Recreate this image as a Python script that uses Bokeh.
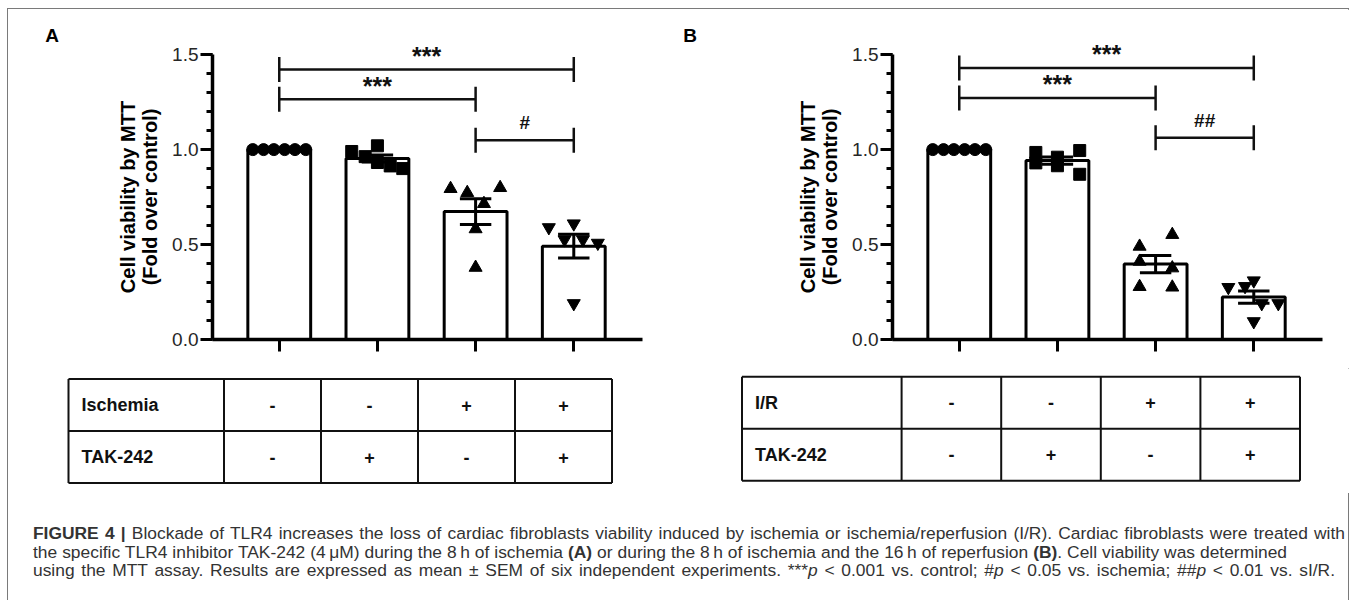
import numpy as np
from bokeh.plotting import figure
from bokeh.models import (Range1d, SingleIntervalTicker, FixedTicker, Div,
                          NumeralTickFormatter)
from bokeh.layouts import column, row
from bokeh.embed import file_html
from bokeh.resources import INLINE
from bokeh.core.properties import value

# ---------------- data ----------------
group_positions = [0, 1, 2, 3]

# Panel A (ischemia): six replicate values per group
a_control = [1.0, 1.0, 1.0, 1.0, 1.0, 1.0]
a_tak242 = [0.99, 0.963, 1.02, 0.932, 0.914, 0.90]
a_ischemia = [0.794, 0.773, 0.799, 0.715, 0.582, 0.379]
a_isch_tak = [0.59, 0.61, 0.526, 0.526, 0.508, 0.19]

# Panel B (ischemia/reperfusion)
b_control = [1.0, 1.0, 1.0, 1.0, 1.0, 1.0]
b_tak242 = [0.985, 0.93, 0.96, 0.915, 0.995, 0.87]
b_ir = [0.490, 0.552, 0.411, 0.376, 0.278, 0.275]
b_ir_tak = [0.275, 0.28, 0.31, 0.19, 0.19, 0.095]

# significance brackets
a_br_from = [0, 0, 2]
a_br_to = [3, 2, 3]
a_br_y = [1.422, 1.265, 1.049]
a_br_text = ["***", "***", "#"]

b_br_from = [0, 0, 2]
b_br_to = [3, 2, 3]
b_br_y = [1.430, 1.272, 1.062]
b_br_text = ["***", "***", "##"]

# table contents
a_row_labels = ["Ischemia", "TAK-242"]
b_row_labels = ["I/R", "TAK-242"]
row1_flags = ["-", "-", "+", "+"]
row2_flags = ["-", "+", "-", "+"]

y_title = ["Cell viability by MTT", "(Fold over control)"]
y_tick_labels_fmt = "0.0"

caption_lines = [
    '<b>FIGURE 4 |</b> Blockade of TLR4 increases the loss of cardiac fibroblasts viability '
    'induced by ischemia or ischemia/reperfusion (I/R). Cardiac fibroblasts were treated with',
    'the specific TLR4 inhibitor TAK-242 (4\u2009\u03bcM) during the 8\u2009h of ischemia <b>(A)</b> '
    'or during the 8\u2009h of ischemia and the 16\u2009h of reperfusion <b>(B)</b>. '
    'Cell viability was determined',
    'using the MTT assay. Results are expressed as mean \u00b1 SEM of six independent experiments. '
    '***<i>p</i> &lt; 0.001 vs. control; #<i>p</i> &lt; 0.05 vs. ischemia; '
    '##<i>p</i> &lt; 0.01 vs. sI/R.',
]
caption_line_widths = [1312, 1254, 1302]

# jitter of replicate points (layout)
jit_ctrl = [-0.27, -0.16, -0.055, 0.055, 0.16, 0.27]
a_jit = [jit_ctrl,
         [-0.262, -0.125, 0.0, 0.0, 0.13, 0.258],
         [-0.255, -0.085, 0.25, 0.085, 0.0, 0.0],
         [-0.254, 0.0, -0.094, 0.093, 0.245, 0.0]]
b_jit = [jit_ctrl,
         [-0.22, -0.22, 0.0, 0.0, 0.227, 0.227],
         [-0.163, 0.17, -0.163, 0.17, -0.163, 0.17],
         [-0.259, -0.089, 0.0, 0.081, 0.25, 0.0]]

MARKERS = ["circle", "square", "triangle", "inverted_triangle"]
MSIZE = [12, 12, 13, 13]
FONT = "Liberation Sans"
INK = "#111111"

FIG_H = 359
AXIS_BORDER = 44
FRAME_W = 430
BORDER_TOP = 0
BORDER_BOTTOM = 29
PX_PER_UNIT = 189.9
YTOP = (FIG_H - BORDER_TOP - BORDER_BOTTOM) / PX_PER_UNIT


def make_label_fig(width, letter, letter_x):
    # coordinates: x = px from left, y = px from bottom of the figure canvas
    f = figure(width=width, height=FIG_H, x_range=Range1d(0, width),
               y_range=Range1d(BORDER_BOTTOM, FIG_H - BORDER_TOP),
               output_backend="svg", toolbar_location=None,
               min_border_left=0, min_border_right=0,
               min_border_top=BORDER_TOP, min_border_bottom=BORDER_BOTTOM)
    f.axis.visible = False
    f.grid.visible = False
    f.outline_line_color = None
    f.text(x=[letter_x], y=[FIG_H - 25.5], text=[letter], text_align="center",
           text_baseline="middle", text_font=value(FONT), text_font_style="bold",
           text_font_size="19px", text_color="black")
    ax = width + AXIS_BORDER
    f.text(x=[ax - 84.5, ax - 62.5], y=[FIG_H - 187.5] * 2, text=y_title,
           angle=np.pi / 2, text_align="center", text_baseline="middle",
           text_font=value(FONT), text_font_style="bold", text_font_size="20px",
           text_color="black")
    return f


def make_panel(groups, jitter, br_from, br_to, br_y, br_text, width):
    p = figure(width=width, height=FIG_H, x_range=Range1d(-0.68, 3.70),
               y_range=Range1d(0, YTOP), output_backend="svg", toolbar_location=None,
               min_border_left=AXIS_BORDER, min_border_right=width - AXIS_BORDER - FRAME_W,
               min_border_top=BORDER_TOP, min_border_bottom=BORDER_BOTTOM)
    p.outline_line_color = None
    p.grid.visible = False

    ya = p.yaxis[0]
    ya.ticker = SingleIntervalTicker(interval=0.5, num_minor_ticks=5)
    ya.formatter = NumeralTickFormatter(format=y_tick_labels_fmt)
    ya.bounds = (0, 1.5)
    ya.axis_line_width = 3.5
    ya.axis_line_color = "black"
    ya.major_tick_line_width = 3
    ya.minor_tick_line_width = 3
    ya.major_tick_line_color = "black"
    ya.minor_tick_line_color = "black"
    ya.major_tick_out = 12
    ya.major_tick_in = 0
    ya.minor_tick_out = 6
    ya.minor_tick_in = 0
    ya.major_label_standoff = 2
    ya.major_label_text_font = FONT
    ya.major_label_text_font_size = "19px"
    ya.major_label_text_color = "#262626"

    xa = p.xaxis[0]
    xa.ticker = FixedTicker(ticks=group_positions, minor_ticks=[])
    xa.axis_line_width = 3.5
    xa.axis_line_color = "black"
    xa.major_tick_line_width = 3
    xa.major_tick_line_color = "black"
    xa.major_tick_out = 12
    xa.major_tick_in = 0
    xa.major_label_text_font_size = "1px"
    xa.major_label_text_alpha = 0
    xa.major_label_standoff = 0

    means = [float(np.mean(g)) for g in groups]
    sems = [float(np.std(g, ddof=1) / np.sqrt(len(g))) for g in groups]
    xs = np.array(group_positions, dtype=float)
    m = np.array(means)
    s = np.array(sems)

    p.vbar(x=xs, top=m, width=0.64, bottom=0, fill_color="white",
           line_color="black", line_width=3)
    for i, g in enumerate(groups):
        p.scatter(x=xs[i] + np.array(jitter[i]), y=g, marker=MARKERS[i],
                  size=MSIZE[i], fill_color="black", line_color="black")
    cap = 0.16
    p.segment(x0=xs, y0=m - s, x1=xs, y1=m + s, line_width=3, line_color="black")
    p.segment(x0=xs - cap, y0=m + s, x1=xs + cap, y1=m + s, line_width=3, line_color="black")
    p.segment(x0=xs - cap, y0=m - s, x1=xs + cap, y1=m - s, line_width=3, line_color="black")

    bf = np.array(br_from, dtype=float)
    bt = np.array(br_to, dtype=float)
    by = np.array(br_y)
    tick = 0.066
    p.segment(x0=bf, y0=by, x1=bt, y1=by, line_width=2.5, line_color=INK)
    p.segment(x0=bf, y0=by - tick, x1=bf, y1=by + tick, line_width=2.5, line_color=INK)
    p.segment(x0=bt, y0=by - tick, x1=bt, y1=by + tick, line_width=2.5, line_color=INK)
    is_star = [t.startswith("*") for t in br_text]
    sizes = ["25px" if st else "19px" for st in is_star]
    lift = np.array([0.071 if st else 0.092 for st in is_star])
    p.text(x=(bf + bt) / 2, y=by + lift, text=br_text, text_align="center",
           text_baseline="alphabetic", text_font=value(FONT), text_font_style="bold",
           text_font_size=sizes, text_color=INK)
    return p


def make_table(labels, width, left, label_w, col_w, top, row_h):
    h = 125
    t = figure(width=width, height=h, x_range=Range1d(0, width), y_range=Range1d(h, 0),
               output_backend="svg", toolbar_location=None, min_border=0)
    t.axis.visible = False
    t.grid.visible = False
    t.outline_line_color = None
    ncol = len(row1_flags)
    right = left + label_w + ncol * col_w
    bottom = top + 2 * row_h
    hy = [top, top + row_h, bottom]
    t.segment(x0=[left] * 3, y0=hy, x1=[right] * 3, y1=hy, line_width=2, line_color=INK)
    vx = [left, left + label_w] + [left + label_w + (k + 1) * col_w for k in range(ncol)]
    t.segment(x0=vx, y0=[top] * len(vx), x1=vx, y1=[bottom] * len(vx),
              line_width=2, line_color=INK)
    t.text(x=[left + 13, left + 13], y=[top + row_h / 2, top + 1.5 * row_h], text=labels,
           text_align="left", text_baseline="middle", text_font=value(FONT),
           text_font_style="bold", text_font_size="18px", text_color=INK)
    cx = [left + label_w + (k + 0.5) * col_w for k in range(ncol)]
    t.text(x=cx + cx, y=[top + row_h / 2] * ncol + [top + 1.5 * row_h] * ncol,
           text=row1_flags + row2_flags, text_align="center", text_baseline="middle",
           text_font=value(FONT), text_font_style="bold", text_font_size="18px",
           text_color=INK)
    return t


LAB_A, LAB_B = 160, 170
GA, GB = 670, 672

la = make_label_fig(LAB_A, "A", 43.5)
lb = make_label_fig(LAB_B, "B", 11.5)
pa = make_panel([a_control, a_tak242, a_ischemia, a_isch_tak], a_jit,
                a_br_from, a_br_to, a_br_y, a_br_text, GA - LAB_A)
pb = make_panel([b_control, b_tak242, b_ir, b_ir_tak], b_jit,
                b_br_from, b_br_to, b_br_y, b_br_text, GB - LAB_B)

ta = make_table(a_row_labels, GA, 60, 155.5, 97, 10.5, 52)
tb = make_table(b_row_labels, GB, 63.5, 159.6, 99.6, 8.2, 52)

line_divs = "".join(
    '<div style="width:%dpx; text-align: justify; text-align-last: justify;">%s</div>'
    % (w, t) for w, t in zip(caption_line_widths, caption_lines))
caption_html = (
    '<div style="font-family: \'Liberation Sans\', Arial, sans-serif; font-size: 17.4px; '
    'line-height: 18.6px; color: #333; padding-left: 20px; padding-top: 26px;">'
    + line_divs + '</div>'
)
cap = Div(text=caption_html, width=GA + GB, height=100)

layout = column(row(la, pa, lb, pb), row(ta, tb), cap, width=GA + GB,
                styles={"margin-left": "7px", "margin-top": "8px",
                        "border-top": "1.5px solid #7a7a7a",
                        "border-left": "1.5px solid #7a7a7a",
                        "border-right": "1.5px solid #7a7a7a"})

open("out.html", "w").write(file_html(layout, INLINE))
